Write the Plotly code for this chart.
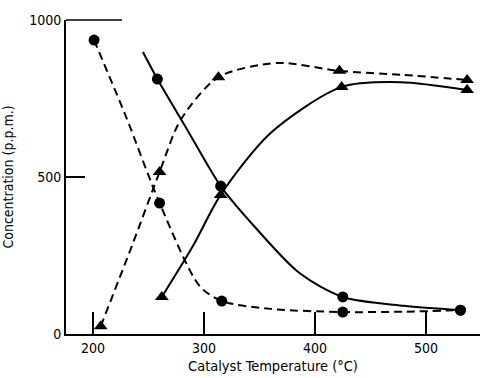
import plotly.graph_objects as go

# ---- data ----
# dashed line, circles (decreasing, low temperature)
dc_T = [201, 260, 316, 425, 531]
dc_C = [936, 417, 105, 70, 76]
dc_curve_T = [201, 230, 260, 296, 316, 360, 425, 480, 531]
dc_curve_C = [936, 690, 417, 153, 105, 80, 70, 71, 76]

# solid line, circles
sc_T = [258, 315, 425, 531]
sc_C = [812, 471, 118, 76]
sc_curve_T = [245, 258, 285, 315, 341, 386, 425, 480, 531]
sc_curve_C = [898, 812, 650, 471, 360, 194, 118, 90, 76]

# dashed line, triangles
dt_T = [207, 260, 313, 422, 537]
dt_C = [25, 516, 818, 838, 809]
dt_curve_T = [207, 235, 260, 279, 313, 366, 422, 480, 537]
dt_curve_C = [25, 280, 516, 682, 818, 863, 838, 825, 809]

# solid line, triangles
st_T = [262, 315, 424, 537]
st_C = [118, 443, 787, 777]
st_curve_T = [262, 290, 315, 360, 424, 477, 537]
st_curve_C = [118, 280, 443, 640, 787, 802, 777]

x_ticks = [200, 300, 400, 500]
y_ticks = [0, 500, 1000]

FONT = "Liberation Sans Narrow, DejaVu Sans Condensed, Arial Narrow, sans-serif"
DASH = "8px,5px"

fig = go.Figure()

def add_series(ct, cc, mt, mc, dash, symbol, size):
    fig.add_trace(go.Scatter(x=ct, y=cc, mode="lines",
                             line=dict(color="black", width=2, dash=dash,
                                       shape="spline", smoothing=0.8),
                             hoverinfo="skip", showlegend=False))
    fig.add_trace(go.Scatter(x=mt, y=mc, mode="markers",
                             marker=dict(color="black", symbol=symbol, size=size),
                             showlegend=False))

add_series(dc_curve_T, dc_curve_C, dc_T, dc_C, DASH, "circle", 11)
add_series(sc_curve_T, sc_curve_C, sc_T, sc_C, "solid", "circle", 11)
add_series(dt_curve_T, dt_curve_C, dt_T, dt_C, DASH, "triangle-up", 12)
add_series(st_curve_T, st_curve_C, st_T, st_C, "solid", "triangle-up", 12)

fig.update_layout(
    width=483, height=378,
    margin=dict(l=66, r=3, t=20, b=44),
    paper_bgcolor="white", plot_bgcolor="white",
    font=dict(family=FONT, size=14, color="black"),
    xaxis=dict(range=[175.7, 548.6], tickvals=x_ticks, ticktext=[str(v) for v in x_ticks],
               ticks="inside", ticklen=22, tickwidth=1.5, tickcolor="black",
               showline=True, linecolor="black", linewidth=2, showgrid=False, zeroline=False,
               title=dict(text="Catalyst Temperature (°C)", standoff=6, font=dict(size=14.5))),
    yaxis=dict(range=[0, 1000], tickvals=y_ticks, ticktext=[str(v) for v in y_ticks],
               ticks="inside", ticklen=19, tickwidth=1.5, tickcolor="black",
               showline=True, linecolor="black", linewidth=2, showgrid=False, zeroline=False,
               title=dict(text="Concentration (p.p.m.)", standoff=14, font=dict(size=14))),
)

# short top border segment remaining in the scan
fig.add_shape(type="line", xref="paper", yref="paper", x0=0, x1=0.135, y0=1, y1=1,
              line=dict(color="black", width=1.5))

fig.write_html("out.html")
